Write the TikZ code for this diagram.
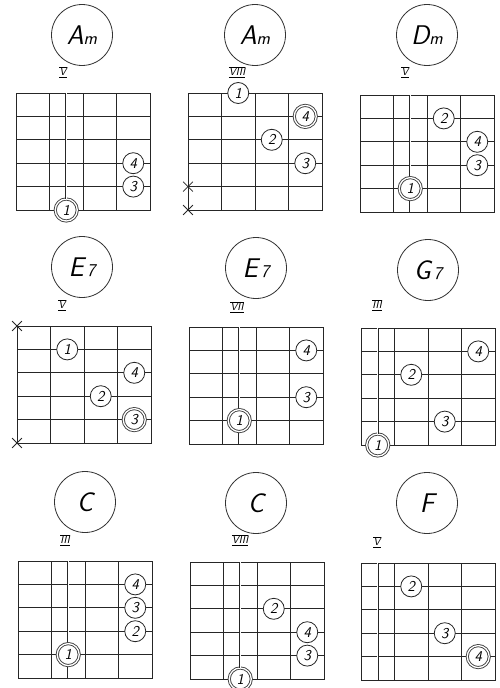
\documentclass[tikz,border=0pt]{standalone}
\usetikzlibrary{shapes.misc}
\tikzset{
 gridline/.style={line width=1pt, draw=black!85},
 barreline/.style={draw=black!85, line width=0.5pt, double=white, double distance=1.1pt},
 finger/.style={circle, draw=black!85, fill=white, line width=0.8pt, minimum size=21pt, inner sep=0pt, font=\sffamily\slshape\fontsize{15}{15}\selectfont},
 fingerdbl/.style={finger, draw=black!75, line width=0.9pt, double=white, double distance=1.3pt, minimum size=22pt},
 chordname/.style={circle, draw=black!80, line width=0.8pt, minimum size=61pt, inner sep=0pt, font=\sffamily\slshape\fontsize{27}{27}\selectfont},
 fretno/.style={font=\sffamily\slshape\fontsize{11}{11}\selectfont, inner sep=0pt},
 mute/.style={cross out, draw=black!85, line width=0.8pt, minimum size=9pt, inner sep=0pt},
 diag/.style={x=33.5pt, y=-23.4pt},
}
\newcommand{\fretgrid}{%
 \draw[gridline] (0,0) rectangle (4,5);
 \foreach \i in {1,2,3} \draw[gridline] (\i,0) -- (\i,5);
 \foreach \j in {1,...,4} \draw[gridline] (0,\j) -- (4,\j);}
\newcommand{\rn}[1]{\underline{$\overline{\mbox{#1}}$}}
\newcommand{\sm}[1]{{\fontsize{18}{18}\selectfont #1}}
\begin{document}
\begin{tikzpicture}[x=1pt, y=-1pt]
\fill[white] (0,0) rectangle (499,688);
\useasboundingbox (0,0) rectangle (499,688);

% ---------- Row 1 ----------
\node[chordname] (n1) at (82,35) {A\sm{m}};
\node[fretno] (p1) at (63,72) {\rn{V}};
\begin{scope}[shift={(16pt,-93pt)}, diag]
 \fretgrid
 \coordinate (b1t) at (1.5,0);
 \node[finger] (d1f4) at (3.5,3) {4};
 \node[finger] (d1f3) at (3.5,4) {3};
 \node[fingerdbl] (d1f1) at (1.5,5) {1};
 \draw[barreline] (b1t) -- (d1f1);
\end{scope}

\node[chordname] (n2) at (255,35) {A\sm{m}};
\node[fretno] (p2) at (237,72) {\rn{VIII}};
\begin{scope}[shift={(188pt,-93pt)}, diag]
 \fretgrid
 \node[finger] (d2f1) at (1.5,0) {1};
 \node[fingerdbl] (d2f4) at (3.5,1) {4};
 \node[finger] (d2f2) at (2.5,2) {2};
 \node[finger] (d2f3) at (3.5,3) {3};
 \node[mute] (d2x5) at (0,4) {};
 \node[mute] (d2x6) at (0,5) {};
\end{scope}

\node[chordname] (n3) at (427,35) {D\sm{m}};
\node[fretno] (p3) at (405,72) {\rn{V}};
\begin{scope}[shift={(360pt,-95pt)}, diag]
 \fretgrid
 \coordinate (b3t) at (1.5,0);
 \coordinate (b3b) at (1.5,5);
 \draw[barreline] (b3t) -- (b3b);
 \node[finger] (d3f2) at (2.5,1) {2};
 \node[finger] (d3f4) at (3.5,2) {4};
 \node[finger] (d3f3) at (3.5,3) {3};
 \node[fingerdbl] (d3f1) at (1.5,4) {1};
\end{scope}

% ---------- Row 2 ----------
\node[chordname] (n4) at (82,267) {E\sm{\,7}};
\node[fretno] (p4) at (62,305) {\rn{V}};
\begin{scope}[shift={(17pt,-326pt)}, diag]
 \fretgrid
 \node[finger] (d4f1) at (1.5,1) {1};
 \node[finger] (d4f4) at (3.5,2) {4};
 \node[finger] (d4f2) at (2.5,3) {2};
 \node[fingerdbl] (d4f3) at (3.5,4) {3};
 \node[mute] (d4x1) at (0,0) {};
 \node[mute] (d4x6) at (0,5) {};
\end{scope}

\node[chordname] (n5) at (256,268) {E\sm{\,7}};
\node[fretno] (p5) at (237,307) {\rn{VII}};
\begin{scope}[shift={(189pt,-327pt)}, diag]
 \fretgrid
 \coordinate (b5t) at (1.5,0);
 \coordinate (b5b) at (1.5,5);
 \draw[barreline] (b5t) -- (b5b);
 \node[finger] (d5f4) at (3.5,1) {4};
 \node[finger] (d5f3) at (3.5,3) {3};
 \node[fingerdbl] (d5f1) at (1.5,4) {1};
\end{scope}

\node[chordname] (n6) at (428,270) {G\sm{\,7}};
\node[fretno] (p6) at (377,305) {\rn{III}};
\begin{scope}[shift={(361pt,-328pt)}, diag]
 \fretgrid
 \coordinate (b6t) at (0.5,0);
 \node[finger] (d6f4) at (3.5,1) {4};
 \node[finger] (d6f2) at (1.5,2) {2};
 \node[finger] (d6f3) at (2.5,4) {3};
 \node[fingerdbl] (d6f1) at (0.5,5) {1};
 \draw[barreline] (b6t) -- (d6f1);
\end{scope}

% ---------- Row 3 ----------
\node[chordname] (n7) at (85,502) {C};
\node[fretno] (p7) at (65,540) {\rn{III}};
\begin{scope}[shift={(18pt,-561pt)}, diag]
 \fretgrid
 \coordinate (b7t) at (1.5,0);
 \coordinate (b7b) at (1.5,5);
 \draw[barreline] (b7t) -- (b7b);
 \node[finger] (d7f4) at (3.5,1) {4};
 \node[finger] (d7f3) at (3.5,2) {3};
 \node[finger] (d7f2) at (3.5,3) {2};
 \node[fingerdbl] (d7f1) at (1.5,4) {1};
\end{scope}

\node[chordname] (n8) at (256,503) {C};
\node[fretno] (p8) at (240,540) {\rn{VIII}};
\begin{scope}[shift={(190pt,-562pt)}, diag]
 \fretgrid
 \coordinate (b8t) at (1.5,0);
 \node[finger] (d8f2) at (2.5,2) {2};
 \node[finger] (d8f4) at (3.5,3) {4};
 \node[finger] (d8f3) at (3.5,4) {3};
 \node[fingerdbl] (d8f1) at (1.5,5) {1};
 \draw[barreline] (b8t) -- (d8f1);
\end{scope}

\node[chordname] (n9) at (427,503) {F};
\node[fretno] (p9) at (377,542) {\rn{V}};
\begin{scope}[shift={(361pt,-563pt)}, diag]
 \fretgrid
 \coordinate (b9t) at (0.5,0);
 \coordinate (b9b) at (0.5,5);
 \draw[barreline] (b9t) -- (b9b);
 \node[finger] (d9f2) at (1.5,1) {2};
 \node[finger] (d9f3) at (2.5,3) {3};
 \node[fingerdbl] (d9f4) at (3.5,4) {4};
\end{scope}
\end{tikzpicture}
\end{document}
